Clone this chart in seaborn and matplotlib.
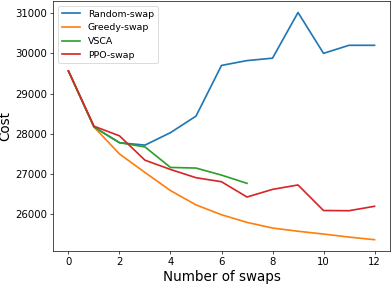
import pandas as pd
import matplotlib
matplotlib.use("Agg")
import matplotlib.pyplot as plt
import seaborn as sns

# data
swaps = list(range(13))
random_swap = [29560, 28170, 27780, 27720, 28030, 28440, 29700, 29820, 29880, 31015, 30000, 30200, 30200]
greedy_swap = [29560, 28170, 27500, 27040, 26590, 26235, 25990, 25800, 25660, 25580, 25510, 25435, 25370]
vsca = [29560, 28170, 27780, 27675, 27165, 27150, 26975, 26770]
ppo_swap = [29560, 28190, 27950, 27345, 27115, 26910, 26810, 26430, 26620, 26730, 26095, 26090, 26200]

methods = ["Random-swap", "Greedy-swap", "VSCA", "PPO-swap"]
colors = ["#1f77b4", "#ff7f0e", "#2ca02c", "#d62728"]

rows = []
for name, vals in zip(methods, [random_swap, greedy_swap, vsca, ppo_swap]):
    for x, v in zip(swaps, vals):
        rows.append({"swaps": x, "cost": v, "method": name})
df = pd.DataFrame(rows)

fig, ax = plt.subplots(figsize=(391 / 61, 284 / 61), dpi=61)
sns.lineplot(data=df, x="swaps", y="cost", hue="method", hue_order=methods,
             palette=colors, linewidth=2, ax=ax)

ax.set_xlabel("Number of swaps", fontsize=16)
ax.set_ylabel("Cost", fontsize=16, labelpad=3)
ax.tick_params(labelsize=12)
ax.set_xticks([0, 2, 4, 6, 8, 10, 12])
ax.legend(loc="upper left", fontsize=11, title=None)

plt.subplots_adjust(left=0.136, right=0.997, top=0.996, bottom=0.116)
plt.savefig("out.png", dpi=61)
